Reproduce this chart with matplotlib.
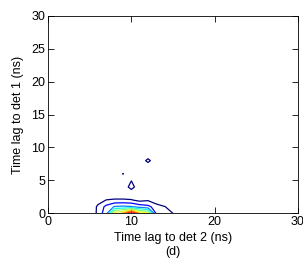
import numpy as np
import matplotlib
matplotlib.use("Agg")
import matplotlib.pyplot as plt

plt.rcParams['font.family'] = ['Liberation Sans', 'DejaVu Sans']

# grid of the coincidence histogram (1 ns bins)
lag_det2 = np.arange(0, 17)
lag_det1 = np.arange(0, 10)

# counts, one row per det-1 lag (0..9 ns), columns det-2 lag 0..16 ns
counts = np.array([
    [0, 0, 0, 0, 0, 0, 1.3, 2.7, 6.5, 7.2, 9.5, 7.0, 6.2, 1.8, 1.6, 1.0, 0],
    [0, 0, 0, 0, 0, 0, 1.25, 2.3, 3.1, 3.2, 3.1, 2.6, 2.3, 1.5, 1.05, 0.5, 0],
    [0, 0, 0, 0, 0, 0, 0.5, 1.05, 1.2, 1.2, 1.1, 0.7, 0.9, 0.3, 0, 0, 0],
    [0, 0, 0, 0, 0, 0, 0, 0, 0, 0, 0, 0, 0, 0, 0, 0, 0],
    [0, 0, 0, 0, 0, 0, 0, 0, 0, 0, 1.6, 0, 0, 0, 0, 0, 0],
    [0, 0, 0, 0, 0, 0, 0, 0, 0, 0, 0.95, 0, 0, 0, 0, 0, 0],
    [0, 0, 0, 0, 0, 0, 0, 0, 0, 1.05, 0, 0, 0, 0, 0, 0, 0],
    [0, 0, 0, 0, 0, 0, 0, 0, 0, 0, 0, 0, 0, 0, 0, 0, 0],
    [0, 0, 0, 0, 0, 0, 0, 0, 0, 0, 0, 0, 1.4, 0, 0, 0, 0],
    [0, 0, 0, 0, 0, 0, 0, 0, 0, 0, 0, 0, 0, 0, 0, 0, 0],
])
levels = [1, 2, 3, 4, 5, 6, 7, 8]

x_ticks = [0, 10, 20, 30]
y_ticks = [0, 5, 10, 15, 20, 25, 30]

fig = plt.figure(figsize=(3.03, 2.66), dpi=100)
ax = fig.add_axes([0.159, 0.198, 0.8235, 0.743])

X, Y = np.meshgrid(lag_det2, lag_det1)
ax.contour(X, Y, counts, levels=levels, cmap='jet', vmin=1, vmax=9,
           linewidths=0.9)

ax.set_xlim(0, 30)
ax.set_ylim(0, 30)
ax.set_xticks(x_ticks)
ax.set_yticks(y_ticks)
ax.tick_params(direction='in', top=True, right=True, length=4,
               width=0.6, labelsize=9, pad=2)
for s in ax.spines.values():
    s.set_linewidth(0.6)

ax.set_xlabel("Time lag to det 2 (ns)\n(d)", fontsize=9, labelpad=3,
              linespacing=1.15)
ax.set_ylabel("Time lag to det 1 (ns)", fontsize=9, labelpad=5)

fig.savefig("out.png", dpi=100)
